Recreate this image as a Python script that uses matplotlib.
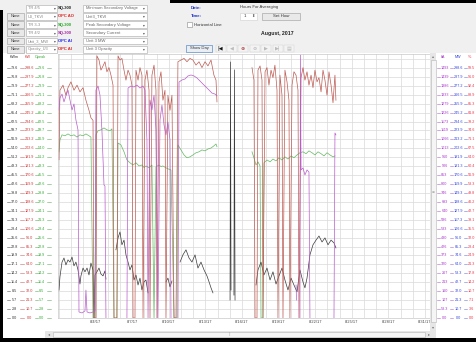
import numpy as np
import matplotlib
matplotlib.use('Agg')
import matplotlib.pyplot as plt
from matplotlib.patches import Rectangle
from matplotlib.lines import Line2D
from matplotlib.transforms import blended_transform_factory

plt.rcParams['font.family'] = ['Liberation Sans', 'DejaVu Sans']
nan = np.nan

# full scale of each axis, split in 28 grid steps
kw_full = 298.6
kv_full = 79.6
ka_full = 1493.0
n_steps = 28

# x = days after 8/1/17
red_day = [0.0, 0.08, 0.33, 0.57, 0.74, 0.98, 1.23, 1.48, 1.72, 1.97, 2.21, 2.46, 2.62, 2.79, 2.87, 3.03,
           3.11, 3.28, 3.44, 3.61, 3.77, 3.93, 4.10, 4.26, 4.43, 4.51, 4.75, 4.84, 5.0, 5.16, 5.33, 5.49,
           5.66, 5.82, 5.98, 6.07, 6.23, 6.31, 6.48, 6.64, 6.80, 6.89, 7.05, 7.21, 7.38, 7.46, 7.62, 7.79,
           7.95, 8.03, 8.20, 8.36, 8.52, 8.69, 8.77, 8.93, 9.10, 9.26, 9.43, 9.59, 9.75, 10.0, 10.25, 10.49,
           10.74, 10.98, 11.23, 11.48, 11.72, 11.97, 12.21, 12.46, 12.70, 12.87, 12.95, 13.0,
           15.82, 15.98, 16.07, 16.23, 16.31, 16.48, 16.64, 16.72, 16.89, 17.05, 17.21, 17.38, 17.54, 17.70,
           17.87, 17.95, 18.11, 18.28, 18.36, 18.52, 18.69, 18.85, 18.93, 19.10, 19.26, 19.43, 19.59, 19.67,
           19.84, 20.0, 20.16, 20.33, 20.49, 20.66, 20.82, 20.98, 21.15, 21.31, 21.48, 21.64, 21.80, 21.97,
           22.13, 22.30, 22.46, 22.62, 22.70]
red_kw = [189, 272, 278, 266, 275, 282, 272, 278, 270, 275, 260, 248, 239, 236, 0, 0,
          313, 308, 296, 301, 306, 294, 299, 290, 278, 0, 0, 313, 308, 310, 296, 284,
          296, 290, 278, 0, 0, 296, 284, 299, 290, 0, 284, 296, 272, 0, 290, 302,
          272, 0, 282, 294, 260, 272, 0, 266, 248, 266, 0, 0, 306, 308, 310, 306,
          310, 308, 302, 306, 299, 306, 301, 308, 290, 284, 258, nan,
          299, 284, 0, 0, 296, 301, 284, 0, 294, 299, 278, 296, 287, 302,
          272, 0, 290, 266, 0, 296, 282, 260, 0, 278, 294, 290, 272, 0,
          287, 299, 284, 294, 278, 290, 275, 296, 282, 287, 270, 296, 284, 266,
          294, 278, 257, 290, 260]

green_day = [0.0, 0.08, 0.25, 0.49, 0.74, 0.98, 1.23, 1.48, 1.72, 1.97, 2.21, 2.46, 2.62, 2.79, 2.95,
             3.03, 3.20, 3.44, 3.69, 3.93, 4.18, 4.34, 4.51, 4.75, 4.84, 5.08, 5.33, 5.57, 5.82, 6.07,
             6.31, 6.56, 6.80, 6.97, 7.13, 7.38, 7.62, 7.79, 7.95, 8.20, 8.36, 8.52, 8.77, 8.93, 9.18,
             9.43, 9.67, 9.75, 10.0, 10.25, 10.49, 10.74, 10.98, 11.23, 11.48, 11.72, 11.97, 12.21, 12.46,
             12.70, 12.87, 12.95, 13.0,
             15.82, 15.98, 16.15, 16.31, 16.48, 16.56, 16.72, 16.80, 17.05, 17.30, 17.54, 17.79, 18.03,
             18.28, 18.52, 18.77, 19.02, 19.26, 19.51, 19.75, 20.0, 20.25, 20.49, 20.74, 20.98, 21.23,
             21.48, 21.72, 21.97, 22.21, 22.46, 22.62]
green_kv = [52.9, 56.7, 58.3, 58.0, 58.6, 58.0, 58.3, 57.6, 58.3, 58.0, 58.6, 58.0, 57.6, 0, 0,
            58.3, 59.6, 59.9, 60.5, 59.9, 59.6, 60.2, 0, 0, 55.7, 55.1, 52.9, 50.3, 49.4, 48.7,
            49.4, 48.4, 48.7, 47.9, 48.4, 47.8, 48.7, 0, 48.1, 48.7, 48.2, 48.4, 47.8, 47.5, 47.1,
            0, 0, 55.1, 53.5, 51.9, 51.0, 51.3, 51.9, 52.6, 52.9, 53.5, 53.2, 53.8, 54.1,
            54.8, 55.4, 54.5, nan,
            52.9, 51.0, 48.7, 49.7, 48.4, 0, 0, 49.4, 50.3, 49.7, 50.6, 50.0, 51.0,
            50.3, 51.3, 50.6, 51.6, 51.0, 51.9, 52.6, 52.9, 52.3, 53.2, 52.6, 51.9, 52.9,
            52.3, 51.6, 52.6, 51.9, 51.3, 51.6]

purple_day = [0.0, 0.08, 0.25, 0.41, 0.57, 0.74, 0.90, 1.07, 1.23, 1.39, 1.56, 1.64, 1.89, 2.13, 2.21,
              2.30, 2.54, 2.79, 2.95, 3.03, 3.20, 3.36, 3.52, 3.69, 3.77, 3.85, 3.9,
              5.57, 5.66, 5.90, 6.15, 6.39, 6.64, 6.89, 7.05, 7.21, 7.30, 7.46, 7.62, 7.79, 7.95, 8.11,
              8.28, 8.44, 8.61, 8.77, 8.93, 9.10, 9.18, 9.2,
              9.75, 9.84, 10.08, 10.33, 10.57, 10.82, 11.07, 11.31, 11.56, 11.80, 12.05, 12.30, 12.54,
              12.79, 12.95, 13.0,
              19.43, 19.47, 19.5, 19.75, 19.79, 19.84, 20.0, 20.16, 20.33, 20.49, 20.57, 20.6,
              22.54, 22.62, 22.70]
purple_ka = [1242, 1314, 1337, 1290, 1326, 1361, 1302, 1242, 1278, 1182, 1123, 36, 30, 42, 167,
             36, 30, 36, 42, 1361, 1385, 1331, 1123, 794, 788, 0, nan,
             0, 1373, 1385, 1379, 1391, 1373, 1385, 1361, 1063, 0, 1302, 1242, 1331, 1123, 0,
             1182, 1272, 1152, 1093, 1170, 1063, 0, nan,
             0, 1409, 1421, 1427, 1445, 1451, 1445, 1433, 1415, 1397, 1379, 1361, 1343,
             1337, 1326, nan,
             197, 107, nan, 0, 1570, 884, 896, 854, 884, 872, 0, nan,
             0, 1105, 1093]

black_day = [0.0, 0.08, 0.25, 0.41, 0.57, 0.74, 0.90, 1.07, 1.23, 1.39, 1.56, 1.72, 1.80, 1.97, 2.13,
             2.30, 2.46, 2.62, 2.79, 2.87, 2.95, 3.11, 3.28, 3.44, 3.61, 3.77, 3.85, 3.9,
             4.67, 4.84, 5.0, 5.16, 5.33, 5.49, 5.66, 5.82, 5.98, 6.15, 6.31, 6.48, 6.64, 6.80, 6.97,
             7.13, 7.30, 7.35,
             8.77, 8.93, 9.10, 9.26, 9.3,
             9.92, 10.16, 10.41, 10.66, 10.90, 11.15, 11.39, 11.64, 11.89, 12.13, 12.30, 12.46, 12.62, 12.7,
             14.02, 14.06, 14.10, 14.2, 14.34, 14.38, 14.43, 14.5,
             16.15, 16.31, 16.56, 16.80, 17.05, 17.30, 17.54, 17.79, 18.03, 18.28, 18.52, 18.77, 19.02,
             19.26, 19.51, 19.75, 20.0, 20.16, 20.33, 20.57, 20.82, 21.07, 21.31, 21.56, 21.80, 22.05,
             22.30, 22.54, 22.70]
black_kv = [8.9, 13.1, 17.8, 19.1, 16.9, 18.5, 17.8, 19.4, 16.6, 17.8, 15.3, 10.8, 13.4, 15.9, 14.7,
            15.9, 13.7, 17.5, 15.3, 0, 13.7, 14.7, 15.9, 14.0, 13.4, 15.0, 12.4, nan,
            21.7, 25.5, 27.4, 23.3, 24.8, 20.1, 17.8, 15.3, 16.9, 12.1, 13.7, 10.5, 12.7, 8.9, 11.5,
            12.1, 8.0, nan,
            11.5, 12.7, 9.9, 11.8, nan,
            17.8, 20.1, 21.7, 19.1, 17.8, 20.1, 15.9, 17.8, 15.3, 13.4, 11.5, 9.6, 8.0, nan,
            5.7, 81.5, 8.9, nan, 7.3, 79.0, 5.7, nan,
            10.5, 15.3, 17.8, 13.7, 15.9, 12.1, 14.7, 10.8, 13.4, 15.9, 12.1, 8.9, 12.7,
            10.5, 8.3, 15.3, 11.5, 9.6, 12.7, 20.1, 23.3, 24.8, 26.1, 24.2, 25.5, 23.3,
            24.8, 23.9, 22.3]

# axis tick labels, top to bottom
kwm_labels = ['79.6', '76.8', '73.9', '71.1', '68.2', '65.4', '62.5', '59.7', '56.9', '54.0', '51.2',
              '48.3', '45.5', '42.6', '39.8', '37.0', '34.1', '31.3', '28.4', '25.6', '22.8', '19.9',
              '17.1', '14.2', '11.4', '8.5', '5.7', '2.8', '0.0']
kw_labels = ['298.6', '287.9', '277.2', '266.5', '255.9', '245.2', '234.6', '223.9', '213.2', '202.6',
             '191.9', '181.3', '170.6', '159.9', '149.3', '138.6', '127.9', '117.3', '106.6', '96.0',
             '85.3', '74.6', '64.0', '53.3', '42.7', '32.0', '21.3', '10.7', '0.0']
opeak_labels = kwm_labels
ka_labels = ['1493', '1439', '1386', '1333', '1279', '1226', '1173', '1119', '1066', '1013', '960',
             '906', '853', '800', '746', '693', '640', '586', '533', '480', '426', '373', '320', '267',
             '213', '160', '107', '53.3', '0.0']
mw_labels = kw_labels
pct_labels = ['99.5', '96.0', '92.4', '88.9', '85.3', '81.8', '78.2', '74.6', '71.1', '67.5', '64.0',
              '60.4', '56.9', '53.3', '49.8', '46.2', '42.7', '39.1', '35.5', '32.0', '28.4', '24.9',
              '21.3', '17.8', '14.2', '10.7', '7.1', '3.6', '0.0']
date_labels = ['8/4/17', '8/7/17', '8/10/17', '8/13/17', '8/16/17', '8/19/17', '8/22/17', '8/25/17',
               '8/28/17', '8/31/17']

row_sources = ['TR 4/5', 'U3_TKVI', 'TR 3-3', 'TR 4/2', 'Unit_3_MW', 'Opacity_U3']
row_types = ['SQ-300', 'OPC AO', 'SQ-300', 'SQ-300', 'OPC AI', 'OPC AI']
row_colors = ['#222222', '#dd2222', '#22aa22', '#aa22aa', '#2222ee', '#dd2222']
row_signals = ['Minimum Secondary Voltage', 'Unit3_TKVI', 'Peak Secondary Voltage',
               'Secondary Current', 'Unit 3 MW', 'Unit 3 Opacity']

W, H = 476, 342
fig = plt.figure(figsize=(W / 100, H / 100), dpi=100)
fig.patch.set_facecolor('#f0f0f0')


def box(x, y, w, h, fc, ec='none', lw=0.5, z=-1):
    fig.add_artist(Rectangle((x / W, 1 - (y + h) / H), w / W, h / H, transform=fig.transFigure,
                             fc=fc, ec=ec, lw=lw, zorder=z))


def txt(x, y, s, size=3.2, color='#333333', ha='left', z=6, **kw):
    fig.text(x / W, 1 - y / H, s, fontsize=size, color=color, ha=ha, va='center', zorder=z, **kw)


# frame pieces of the screenshot
box(3, 53, 473, 285, 'white')
box(0, 10, 3, 332, 'black', z=10)
box(0, 338, 476, 4, 'black', z=10)
box(170, 0, 306, 3, 'black', z=10)

# chart
ax = fig.add_axes([58 / W, 1 - 318 / H, (430 - 58) / W, (318 - 54) / H])
ax.set_facecolor('white')
ax.set_xlim(-0.08, 30.41)
ax.set_ylim(0, 29.56)
ax.set_xticks(np.arange(0, 31))
ax.set_xticklabels(['' if (d < 3 or d % 3) else date_labels[d // 3 - 1] for d in range(31)],
                   fontsize=2.9, color='#444444')
ax.set_yticks(np.arange(0, 30))
ax.set_yticklabels([])
ax.tick_params(length=0, pad=1.6)
ax.grid(True, color='#d9d9d9', lw=0.5)
for s in ax.spines.values():
    s.set_color('#c8c8c8')
    s.set_linewidth(0.5)

lw = 0.5
ax.plot(green_day, np.array(green_kv) / (kv_full / n_steps), color='#62b862', lw=lw)
ax.plot(black_day, np.array(black_kv) / (kv_full / n_steps), color='#3a3a3a', lw=lw)
ax.plot(red_day, np.array(red_kw) / (kw_full / n_steps), color='#bd5a52', lw=lw)
ax.plot(purple_day, np.array(purple_ka) / (ka_full / n_steps), color='#b85ccb', lw=lw)

# value columns on both sides
tr = blended_transform_factory(fig.transFigure, ax.transData)
cols = [(14.5, kwm_labels, '#333333'), (29.5, kw_labels, '#cc3333'), (41.5, opeak_labels, '#33aa33'),
        (444.5, ka_labels, '#aa33cc'), (458.5, mw_labels, '#3344dd'), (471.5, pct_labels, '#ee3344')]
for cx, labels, c in cols:
    for i, lab in enumerate(labels):
        fig.text(cx / W, n_steps - i, lab, transform=tr, fontsize=2.7, color=c,
                 ha='center', va='center', zorder=6)
dashes = [(6.5, 9.5, '#555555'), (20, 24, '#cc6666'), (34.5, 37.5, '#66aa66'), (47, 51, '#66aa66'),
          (436.5, 439.5, '#aa66cc'), (449.5, 452.5, '#aa66cc'), (463.5, 466.5, '#6677dd')]
for x0, x1, c in dashes:
    for i in range(n_steps + 1):
        fig.add_artist(Line2D([x0 / W, x1 / W], [i, i], transform=tr, color=c, lw=0.4, zorder=6))
hy = 29.17
for cx, s, c in [(14, 'KWm', '#333333'), (28, 'KW', '#cc3333'), (40.5, 'Opeak', '#33aa33'),
                 (443, 'kA', '#aa33cc'), (458, 'MW', '#3344dd'), (470, '%', '#ee3344')]:
    fig.text(cx / W, hy, s, transform=tr, fontsize=2.7, color=c, ha='center', va='center', zorder=6)

# scrollbars
box(430, 53, 6, 278, '#e6e6e6', z=5)
box(430.5, 60, 5, 262, '#f5f5f5', ec='#b5b5b5', lw=0.4, z=5)
txt(433, 56.5, '▴', size=3, color='#777777', ha='center', family=['DejaVu Sans'])
txt(433, 327, '▾', size=3, color='#777777', ha='center', family=['DejaVu Sans'])
txt(433, 192, '≡', size=2.5, color='#888888', ha='center', family=['DejaVu Sans'])
box(45, 331, 391, 6.5, '#e6e6e6', z=5)
box(53, 331.5, 372, 5.5, '#f5f5f5', ec='#b5b5b5', lw=0.4, z=5)
txt(49, 334.2, '◂', size=3, color='#777777', ha='center', family=['DejaVu Sans'])
txt(429, 334.2, '▸', size=3, color='#777777', ha='center', family=['DejaVu Sans'])
txt(230, 334.2, '|||', size=2.2, color='#888888', ha='center')

# control panel
row_y = [8.3, 16.3, 24.7, 32.8, 41.0, 49.2]
for k, yc in enumerate(row_y):
    if k > 0:
        box(7, yc - 3.3, 17, 6.6, '#e9e9e9', ec='#9a9a9a', lw=0.4, z=2)
        txt(15.5, yc, 'None', size=2.9, color='#333333', ha='center')
    box(26, yc - 3.3, 31, 6.6, 'white', ec='#a8a8a8', lw=0.4, z=2)
    txt(28, yc, row_sources[k], size=2.9, color='#888888')
    txt(54.5, yc, '▾', size=2.6, color='#555555', ha='center', family=['DejaVu Sans'])
    txt(58, yc, row_types[k], size=3.0, color=row_colors[k], fontweight='bold')
    box(83, yc - 3.3, 64, 6.6, 'white', ec='#a8a8a8', lw=0.4, z=2)
    txt(86, yc, row_signals[k], size=3.0, color='#666666')
    txt(143.5, yc, '▾', size=2.6, color='#555555', ha='center', family=['DejaVu Sans'])

txt(191, 8.3, 'Date:', size=3.1, color='#2233cc', fontweight='bold')
txt(191, 16.3, 'Time:', size=3.1, color='#2233cc', fontweight='bold')
box(187, 22.5, 4.5, 4.5, 'white', ec='#888888', lw=0.4, z=2)
txt(194, 24.7, 'Horizontal Line', size=3.1, color='#333333')
txt(240, 7, 'Hours For Averaging', size=3.1, color='#333333')
box(240, 12.5, 17, 7.5, 'white', ec='#cfcfcf', lw=0.4, z=2)
txt(244, 16.3, '1', size=3.1, color='#333333')
txt(253.5, 16.3, '⬍', size=3.0, color='#555555', ha='center', family=['DejaVu Sans'])
box(262, 12.5, 38, 7.5, '#e9e9e9', ec='#9a9a9a', lw=0.4, z=2)
txt(281, 16.3, 'Set Hour', size=3.1, color='#333333', ha='center')
txt(277, 33, 'August, 2017', size=3.7, color='#222222', ha='center', fontweight='bold')
box(186, 44.5, 26, 7.5, '#e9eef5', ec='#5c8fc9', lw=0.5, z=2)
txt(199, 48.3, 'Show Day', size=3.0, color='#333333', ha='center')
icons = [(220.5, '|◀', '#111111'), (232, '◀', '#bbbbbb'), (243, '⊕', '#b04a4a'), (254.5, '⊖', '#bbbbbb'),
         (266, '▶', '#bbbbbb'), (277.5, '▶|', '#bbbbbb'), (289, '▤', '#bbbbbb')]
for ix, s, c in icons:
    box(ix - 5, 44.5, 10, 7.5, '#f3f3f3', ec='#d0d0d0', lw=0.3, z=2)
    txt(ix, 48.3, s, size=3.6, color=c, ha='center', family=['DejaVu Sans'], fontweight='bold')

fig.savefig('out.png', dpi=100, facecolor=fig.get_facecolor())
